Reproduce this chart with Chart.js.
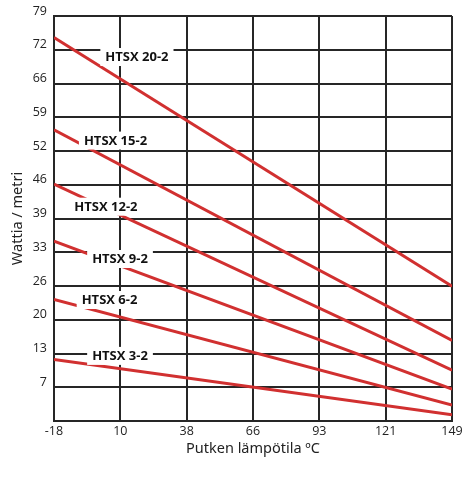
<!DOCTYPE html>
<html>
<head>
<meta charset="utf-8">
<script src="https://cdn.jsdelivr.net/npm/chart.js@4.4.1/dist/chart.umd.min.js"></script>
<style>
  html, body { margin: 0; padding: 0; background: #fff; }
  #wrap { width: 474px; height: 477px; position: relative; }
</style>
</head>
<body>
<div id="wrap"><canvas id="c" width="474" height="477"></canvas></div>
<script>
// ---- data ----
const seriesNames = ['HTSX 20-2', 'HTSX 15-2', 'HTSX 12-2', 'HTSX 9-2', 'HTSX 6-2', 'HTSX 3-2'];
const xRange = [-18, 149];
const startValues = [74.8, 56.8, 46.2, 35.1, 23.7, 12.0];
const endValues = [26.3, 15.7, 9.9, 6.2, 3.1, 1.2];
const xTickLabels = ['-18', '10', '38', '66', '93', '121', '149'];
const yTickLabels = ['', '7', '13', '20', '26', '33', '39', '46', '52', '59', '66', '72', '79'];
const yMax = 79;
// label anchor positions (data coords)
const labelX = [16.8, 7.8, 3.8, 9.7, 5.3, 9.7];
const labelY = [71.0, 54.7, 41.8, 31.6, 23.6, 12.7];

const RED = '#d13030';
const GRID = '#262626';

const datasets = seriesNames.map((n, i) => ({
  label: n,
  data: [{x: xRange[0], y: startValues[i]}, {x: xRange[1], y: endValues[i]}],
  borderColor: RED,
  borderWidth: 3,
  pointRadius: 0,
  borderCapStyle: 'butt',
  fill: false,
  tension: 0
}));

const labelPlugin = {
  id: 'seriesLabels',
  afterDatasetsDraw(chart) {
    const {ctx, scales: {x, y}} = chart;
    ctx.save();
    ctx.font = '700 13px "Open Sans"';
    ctx.textAlign = 'center';
    ctx.textBaseline = 'middle';
    seriesNames.forEach((n, i) => {
      const px = x.getPixelForValue(labelX[i]);
      const py = y.getPixelForValue(labelY[i]);
      const w = ctx.measureText(n).width;
      ctx.fillStyle = '#fff';
      ctx.fillRect(px - w / 2 - 5, py - 9, w + 10, 18);
      ctx.fillStyle = '#111';
      ctx.fillText(n, px, py + 0.5);
    });
    ctx.restore();
  }
};

new Chart(document.getElementById('c'), {
  type: 'line',
  data: { datasets },
  options: {
    responsive: false,
    animation: false,
    devicePixelRatio: 1,
    layout: { padding: { top: 16, right: 22, left: 0, bottom: 0 } },
    plugins: { legend: { display: false }, tooltip: { enabled: false } },
    scales: {
      x: {
        type: 'linear',
        min: xRange[0],
        max: xRange[1],
        afterBuildTicks(scale) {
          const n = xTickLabels.length - 1;
          scale.ticks = xTickLabels.map((_, i) => ({ value: xRange[0] + i * (xRange[1] - xRange[0]) / n }));
        },
        afterFit(scale) { scale.height = 56; },
        ticks: {
          callback: (v, i) => xTickLabels[i],
          font: { family: 'Open Sans', size: 12.5 },
          color: '#222',
          padding: 3,
          maxRotation: 0,
          autoSkip: false
        },
        grid: { color: GRID, lineWidth: 2, drawTicks: false },
        border: { color: GRID, width: 2 },
        title: {
          display: true,
          text: 'Putken lämpötila ºC',
          font: { family: 'Noto Sans', size: 14.5 },
          color: '#222',
          padding: { top: 0, bottom: 19 }
        }
      },
      y: {
        type: 'linear',
        min: 0,
        max: yMax,
        afterBuildTicks(scale) {
          const n = yTickLabels.length - 1;
          scale.ticks = yTickLabels.map((_, i) => ({ value: i * yMax / n }));
        },
        afterFit(scale) { scale.width = 54; },
        ticks: {
          callback: (v, i) => yTickLabels[i],
          font: { family: 'Open Sans', size: 12.5 },
          color: '#222',
          padding: 7,
          labelOffset: -5,
          autoSkip: false
        },
        grid: { color: GRID, lineWidth: 2, drawTicks: false },
        border: { color: GRID, width: 2 },
        title: {
          display: true,
          text: 'Wattia / metri',
          font: { family: 'Noto Sans', size: 14.5 },
          color: '#222',
          padding: { top: 9, bottom: 0 }
        }
      }
    }
  },
  plugins: [labelPlugin]
});
</script>
</body>
</html>
